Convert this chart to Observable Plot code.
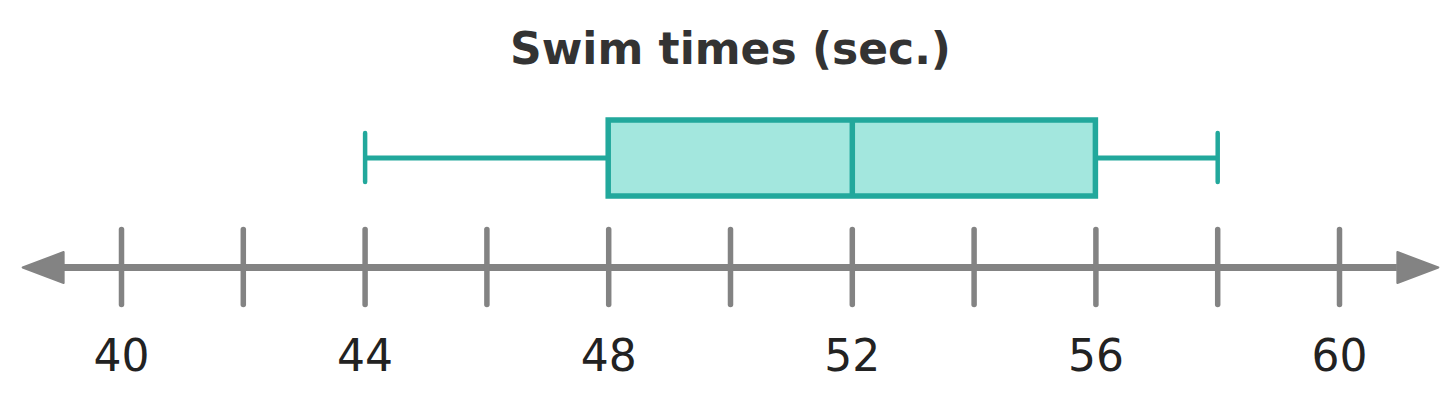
<!DOCTYPE html>
<html><head><meta charset="utf-8">
<script src="https://cdn.jsdelivr.net/npm/d3@7"></script>
<script src="https://cdn.jsdelivr.net/npm/@observablehq/plot@0.6"></script>
<style>html,body{margin:0;padding:0;background:#fff;overflow:hidden}</style>
</head><body><div id="chart"></div>
<script>
// ---- data ----
const title = "Swim times (sec.)";
const summaryStats = ["min", "q1", "median", "q3", "max"];
const summaryValues = [44, 48, 52, 56, 58];
const tickValues = [40, 42, 44, 46, 48, 50, 52, 54, 56, 58, 60];
const tickLabels = ["40", "44", "48", "52", "56", "60"];
const axisExtent = [39.05, 60.95];

// ---- styles / layout ----
const teal = "#22a89c";
const tealFill = "#a3e7de";
const gray = "#838383";
const font = "'DejaVu Sans', Verdana, sans-serif";
const boxTop = 120, boxBottom = 196, boxMid = 157.5;
const capTop = 133, capBottom = 182;
const axisY = 267, tickTop = 229.5, tickBottom = 304.5;
const labelY = 356;

const stat = Object.fromEntries(summaryStats.map((k, i) => [k, summaryValues[i]]));
const whiskers = [{x1: stat.min, x2: stat.q1}, {x1: stat.q3, x2: stat.max}];
const arrows = [{x: axisExtent[0], rot: -90}, {x: axisExtent[1], rot: 90}];
const arrowHead = {
  draw(context, l, r) {
    context.moveTo(0, -l);
    context.lineTo(r, 0);
    context.lineTo(-r, 0);
    context.closePath();
  }
};

const chart = Plot.plot({
  width: 1446,
  height: 405,
  marginLeft: 121,
  marginRight: 107,
  marginTop: 0,
  marginBottom: 0,
  style: {fontFamily: font, background: "#fff", overflow: "visible"},
  x: {domain: [40, 60], axis: null},
  y: {domain: [0, 405], range: [0, 405], axis: null},
  marks: [
    Plot.ruleY(whiskers, {x1: "x1", x2: "x2", y: boxMid, stroke: teal, strokeWidth: 5}),
    Plot.ruleX([stat.min, stat.max], {y1: capTop, y2: capBottom, stroke: teal, strokeWidth: 4.5, strokeLinecap: "round"}),
    Plot.rect([stat], {x1: "q1", x2: "q3", y1: boxTop, y2: boxBottom, fill: tealFill, stroke: teal, strokeWidth: 5.5}),
    Plot.ruleX([stat.median], {y1: boxTop, y2: boxBottom, stroke: teal, strokeWidth: 5.5}),
    Plot.ruleY([axisY], {x1: axisExtent[0], x2: axisExtent[1], stroke: gray, strokeWidth: 7}),
    Plot.ruleX(tickValues, {y1: tickTop, y2: tickBottom, stroke: gray, strokeWidth: 5.5, strokeLinecap: "round"}),
    Plot.vector(arrows, {x: "x", y: axisY, rotate: "rot", length: 41, r: 15.5, anchor: "start", shape: arrowHead,
      fill: gray, stroke: gray, strokeWidth: 2, strokeLinejoin: "round"}),
    Plot.text(tickLabels, {x: d => +d, y: labelY, text: d => d, fontSize: 44, fill: "#222", textAnchor: "middle", lineAnchor: "middle"}),
    Plot.text([title], {frameAnchor: "top", dy: 49, text: d => d, fontSize: 44, fontWeight: "bold", fill: "#333", lineAnchor: "middle"})
  ]
});
document.getElementById("chart").appendChild(chart);
</script>
</body></html>
